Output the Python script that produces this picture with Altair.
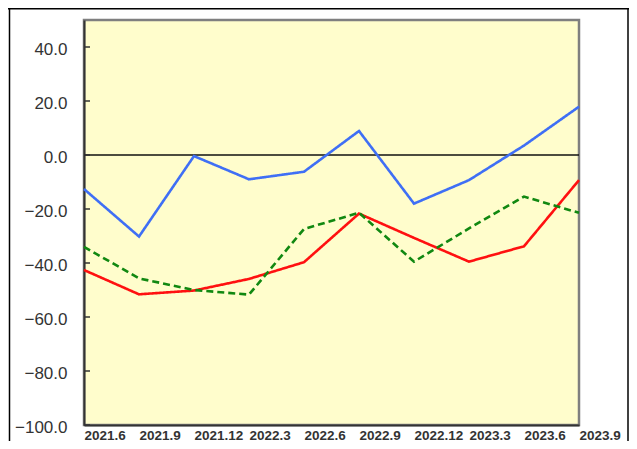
import altair as alt
import pandas as pd

labels = ["2021.6", "2021.9", "2021.12", "2022.3", "2022.6", "2022.9",
          "2022.12", "2023.3", "2023.6", "2023.9"]
blue = [-12.6, -30.2, -0.4, -9.0, -6.2, 8.9, -18.0, -9.3, 3.5, 17.9]
red = [-42.6, -51.6, -50.2, -45.9, -39.7, -21.7, -30.7, -39.5, -33.8, -9.3]
green = [-34.0, -45.7, -50.0, -51.7, -27.4, -21.4, -39.5, -27.2, -15.4, -21.4]
series_names = ["blue", "red", "green"]
series_colors = ["#3F6FF5", "#FF1010", "#118811"]
y_ticks = [-100, -80, -60, -40, -20, 0, 20, 40]

rows = []
for name, vals in zip(series_names, [blue, red, green]):
    for lab, v in zip(labels, vals):
        rows.append({"period": lab, "series": name, "value": v})
df = pd.DataFrame(rows)
tick_df = pd.DataFrame({"t": y_ticks})

W, H = 495, 405
PL, PT, PR, PB = 76, 12, 50, 16

x_enc = alt.X("period:O", sort=labels, scale=alt.Scale(type="point", padding=0),
              axis=alt.Axis(title=None, labelAngle=0, labelAlign="left", tickSize=0,
                            labelFont="Liberation Sans", labelFontSize=13.5,
                            labelFontWeight="bold",
                            labelColor="#333333", labelPadding=3, labelBaseline="top",
                            domainColor="#333333", domainWidth=2))
y_scale = alt.Scale(domain=[-100, 50], nice=False, zero=False)

lines = alt.Chart(df).mark_line(strokeWidth=2.6).encode(
    x=x_enc,
    y=alt.Y("value:Q", scale=y_scale,
            axis=alt.Axis(title=None, values=y_ticks, format=".1f", tickSize=0,
                          labelFont="Liberation Sans", labelFontSize=17,
                          labelColor="#333333", labelPadding=17, labelOffset=2,
                          grid=False, domainColor="#333333", domainWidth=2)),
    color=alt.Color("series:N", scale=alt.Scale(domain=series_names, range=series_colors),
                    legend=None),
    strokeDash=alt.StrokeDash("series:N",
                              scale=alt.Scale(domain=series_names,
                                              range=[[1, 0], [1, 0], [7, 4]]),
                              legend=None),
)

zero = alt.Chart(tick_df).transform_filter("datum.t == 0").mark_rule(
    color="#111111", strokeWidth=1.3).encode(y=alt.Y("t:Q", scale=y_scale))

ticks = alt.Chart(tick_df).mark_rule(color="#333333", strokeWidth=1.5).encode(
    y=alt.Y("t:Q", scale=y_scale),
    x=alt.value(0), x2=alt.value(6),
)

frame_df = pd.DataFrame({"k": [0]})
frame_top = alt.Chart(frame_df).mark_rule(color="#000000", strokeWidth=1.5).encode(
    x=alt.value(-PL), x2=alt.value(W + PR), y=alt.value(-PT + 0.75))
frame_left = alt.Chart(frame_df).mark_rule(color="#000000", strokeWidth=1.5).encode(
    x=alt.value(-PL + 1.5), y=alt.value(-PT), y2=alt.value(H + PB))
frame_right = alt.Chart(frame_df).mark_rule(color="#000000", strokeWidth=1.5).encode(
    x=alt.value(W + PR - 1), y=alt.value(-PT), y2=alt.value(H + PB))

chart = alt.layer(zero, lines, ticks, frame_top, frame_left, frame_right).properties(
    width=W, height=H,
    background="#FFFFFF",
    autosize=alt.AutoSizeParams(type="none"),
    padding={"left": PL, "top": PT, "right": PR, "bottom": PB},
).configure_view(
    fill="#FFFDCC", stroke="#7F7F7F", strokeWidth=2.5
)

chart.save("out.html", embed_options={"renderer": "svg", "actions": False})
